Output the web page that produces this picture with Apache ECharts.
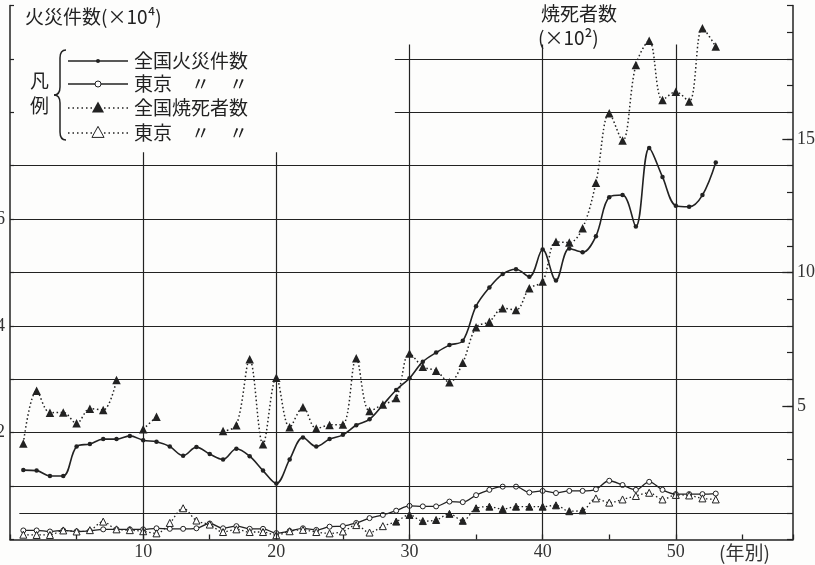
<!DOCTYPE html>
<html>
<head>
<meta charset="utf-8">
<script src="https://cdn.jsdelivr.net/npm/echarts@6/dist/echarts.min.js"></script>
<style>
  html, body { margin: 0; padding: 0; background: #fdfdfc; }
  #chart { width: 815px; height: 565px; }
</style>
</head>
<body>
<div id="chart"></div>
<script>
// 年別 (昭和1〜53年)
const years = [1,2,3,4,5,6,7,8,9,10,11,12,13,14,15,16,17,18,19,20,21,22,23,24,25,26,27,
  28,29,30,31,32,33,34,35,36,37,38,39,40,41,42,43,44,45,46,47,48,49,50,51,52,53];

// 全国火災件数 (×10^4)
const fireNational = [1.30,1.29,1.19,1.19,1.74,1.79,1.88,1.88,1.94,1.86,1.83,1.74,1.57,1.73,1.60,
  1.50,1.70,1.56,1.29,1.05,1.50,1.91,1.74,1.88,1.96,2.14,2.25,2.52,2.80,3.02,3.33,3.50,3.64,3.72,
  4.37,4.72,4.97,5.06,4.92,5.43,4.85,5.45,5.38,5.68,6.41,6.45,5.86,7.33,6.79,6.25,6.23,6.45,7.06];

// 東京火災件数 (×10^4)
const fireTokyo = [0.17,0.17,0.15,0.17,0.15,0.16,0.19,0.19,0.19,0.19,0.21,0.20,0.20,0.21,0.30,
  0.21,0.25,0.20,0.20,0.12,0.16,0.21,0.18,0.24,0.25,0.31,0.40,0.46,0.54,0.63,0.62,0.62,0.71,0.70,
  0.83,0.93,0.99,0.99,0.88,0.91,0.87,0.91,0.91,0.94,1.10,1.02,0.93,1.08,0.93,0.85,0.85,0.85,0.86];

// 全国焼死者数 (×10^2) — 欠測年は null
const deathNational = [3.60,5.57,4.75,4.76,4.35,4.90,4.85,5.97,null,4.13,4.60,null,null,null,null,
  4.06,4.28,6.75,3.57,6.06,4.20,4.95,4.16,4.29,4.31,6.79,4.81,5.06,5.30,6.97,6.47,6.32,5.89,6.62,
  7.95,8.16,8.66,8.60,9.41,9.66,11.15,11.12,11.66,13.36,15.96,14.94,17.77,18.68,16.46,16.77,16.40,19.15,18.46];

// 東京焼死者数 (×10^2)
const deathTokyo = [0.18,0.17,0.17,0.34,0.30,0.35,0.67,0.38,0.35,0.31,0.23,0.62,1.17,0.71,0.56,
  0.28,0.38,0.28,0.28,0.16,0.31,0.36,0.28,0.23,0.30,0.54,0.26,0.50,0.67,0.92,0.69,0.73,0.96,0.70,
  1.17,1.23,1.14,1.23,1.23,1.23,1.28,1.06,1.09,1.54,1.38,1.50,1.63,1.75,1.50,1.67,1.65,1.54,1.50];

// 軸目盛
const xTickLabels = [10, 20, 30, 40, 50];
const leftTickLabels = [2, 4, 6];
const rightTickLabels = [5, 10, 15];

const INK = '#222';
const CJK = '"Noto Sans CJK JP", sans-serif';
const SERIF = '"Liberation Serif", "DejaVu Serif", serif';
const X_MAX = 58.8;

const pairs = (vals) => years.map((y, i) => [y, vals[i]]);

// 東京焼死者数: 昭和29〜43年は黒三角で印刷
const tokyoDeathData = years.map((y, i) => {
  const item = { value: [y, deathTokyo[i]] };
  if (y >= 29 && y <= 43) item.itemStyle = { color: INK };
  return item;
});

// 罫線 (左軸の値で指定)
const hLine = (v, x0) => [{ coord: [x0, v] }, { coord: [X_MAX, v] }];
const vLine = (x, top) => [{ coord: [x, 0] }, { coord: [x, top] }];
const gridLines = [
  hLine(0.5, 0.7), hLine(1, 0), hLine(2, 0), hLine(3, 0), hLine(4, 0),
  hLine(5, 0), hLine(6, 0), hLine(7, 0), hLine(8, 28.9), hLine(9, 28.9),
  vLine(10, 7.25), vLine(20, 7.25), vLine(30, 9.27), vLine(40, 9.27), vLine(50, 9.27)
];
// 右軸の主目盛 (5, 10, 15)
const rightMajorTicks = rightTickLabels.map(v => [{ coord: [X_MAX - 0.8, v] }, { coord: [X_MAX, v] }]);

const chart = echarts.init(document.getElementById('chart'), null, { renderer: 'canvas' });

const tri = (cx, cy, s) => [[cx, cy - s * 0.6], [cx - s * 0.55, cy + s * 0.4], [cx + s * 0.55, cy + s * 0.4]];

const legendRows = [
  { y: 61, dash: 'solid', mark: 'dot', text: '全国火災件数' },
  { y: 84, dash: 'solid', mark: 'circle', text: '東京　〃　〃' },
  { y: 108, dash: 'dotted', mark: 'triFilled', text: '全国焼死者数' },
  { y: 133, dash: 'dotted', mark: 'triOpen', text: '東京　〃　〃' }
];
const legendGraphics = [];
legendRows.forEach(r => {
  legendGraphics.push({
    type: 'line', shape: { x1: 68, y1: r.y, x2: 128, y2: r.y },
    style: { stroke: INK, lineWidth: 1.4, lineDash: r.dash === 'dotted' ? [1.5, 3] : null }
  });
  if (r.mark === 'dot') {
    legendGraphics.push({ type: 'circle', shape: { cx: 98, cy: r.y, r: 2 }, style: { fill: INK } });
  } else if (r.mark === 'circle') {
    legendGraphics.push({ type: 'circle', shape: { cx: 98, cy: r.y, r: 3 }, style: { fill: '#fff', stroke: INK, lineWidth: 1 } });
  } else if (r.mark === 'triFilled') {
    legendGraphics.push({ type: 'polygon', shape: { points: tri(98, r.y, 11) }, style: { fill: INK } });
  } else {
    legendGraphics.push({ type: 'polygon', shape: { points: tri(98, r.y, 11) }, style: { fill: '#fff', stroke: INK, lineWidth: 1 } });
  }
  legendGraphics.push({
    type: 'text', x: 134, y: r.y,
    style: { text: r.text, font: '19px ' + CJK, fill: INK, verticalAlign: 'middle' }
  });
});

// 凡例の中括弧
const braceStyle = { stroke: INK, lineWidth: 1.5, fill: null };
const brace = [
  { type: 'bezierCurve', shape: { x1: 66, y1: 50, x2: 60, y2: 58, cpx1: 60, cpy1: 50 }, style: braceStyle },
  { type: 'line', shape: { x1: 60, y1: 58, x2: 60, y2: 87 }, style: braceStyle },
  { type: 'bezierCurve', shape: { x1: 60, y1: 87, x2: 54, y2: 95, cpx1: 60, cpy1: 95 }, style: braceStyle },
  { type: 'bezierCurve', shape: { x1: 54, y1: 95, x2: 60, y2: 103, cpx1: 60, cpy1: 95 }, style: braceStyle },
  { type: 'line', shape: { x1: 60, y1: 103, x2: 60, y2: 132 }, style: braceStyle },
  { type: 'bezierCurve', shape: { x1: 60, y1: 132, x2: 66, y2: 140, cpx1: 60, cpy1: 140 }, style: braceStyle }
];

const label = (x, y, text, color) => ({
  type: 'text', x: x, y: y,
  style: { text: text, font: '19px ' + CJK, fill: color || INK, verticalAlign: 'middle' }
});

const option = {
  backgroundColor: '#fdfdfc',
  animation: false,
  grid: { left: 10, right: 22, top: 5.5, bottom: 25.5, containLabel: false, outerBoundsMode: 'none' },
  xAxis: {
    type: 'value', min: 0, max: X_MAX, interval: 5,
    axisLine: { show: true, onZero: false, lineStyle: { color: INK, width: 1.5 } },
    axisTick: { show: true, inside: true, length: 5, lineStyle: { color: INK, width: 1.3 } },
    axisLabel: {
      margin: 4, fontSize: 18, fontFamily: SERIF, color: '#333',
      formatter: v => xTickLabels.includes(v) ? String(v) : ''
    },
    splitLine: { show: false }
  },
  yAxis: [
    {
      type: 'value', min: 0, max: 10, interval: 1, position: 'left',
      axisLine: { show: true, lineStyle: { color: INK, width: 1.5 } },
      axisTick: { show: true, inside: true, length: 4, lineStyle: { color: INK, width: 1.2 } },
      axisLabel: {
        margin: 5, fontSize: 18, fontFamily: SERIF, color: '#333',
        formatter: v => leftTickLabels.includes(v) ? String(v) : ''
      },
      splitLine: { show: false }
    },
    {
      type: 'value', min: 0, max: 20, interval: 1, position: 'right',
      axisLine: { show: true, lineStyle: { color: INK, width: 1.5 } },
      axisTick: { show: true, inside: true, length: 6, lineStyle: { color: INK, width: 1.2 } },
      axisLabel: {
        margin: 4, fontSize: 18, fontFamily: SERIF, color: '#333',
        formatter: v => rightTickLabels.includes(v) ? String(v) : ''
      },
      splitLine: { show: false }
    }
  ],
  series: [
    {
      name: '全国火災件数', type: 'line', yAxisIndex: 0, data: pairs(fireNational),
      smooth: 0.35, symbol: 'circle', symbolSize: 4.5,
      lineStyle: { color: INK, width: 1.6 }, itemStyle: { color: INK },
      markLine: {
        silent: true, symbol: ['none', 'none'], label: { show: false },
        lineStyle: { color: INK, width: 1.2, type: 'solid' },
        data: gridLines
      },
      z: 3
    },
    {
      name: '東京火災件数', type: 'line', yAxisIndex: 0, data: pairs(fireTokyo),
      smooth: 0.35, symbol: 'circle', symbolSize: 5,
      lineStyle: { color: INK, width: 1.3 },
      itemStyle: { color: '#fff', borderColor: INK, borderWidth: 1 },
      z: 4
    },
    {
      name: '全国焼死者数', type: 'line', yAxisIndex: 1, data: pairs(deathNational),
      connectNulls: false, smooth: 0.35, symbol: 'triangle', symbolSize: 8.5,
      lineStyle: { color: INK, width: 1.5, type: [1.5, 2.5] }, itemStyle: { color: INK },
      markLine: {
        silent: true, symbol: ['none', 'none'], label: { show: false },
        lineStyle: { color: INK, width: 1.3, type: 'solid' },
        data: rightMajorTicks
      },
      z: 3
    },
    {
      name: '東京焼死者数', type: 'line', yAxisIndex: 1, data: tokyoDeathData,
      smooth: 0.35, symbol: 'triangle', symbolSize: 7,
      lineStyle: { color: INK, width: 1.3, type: [1.5, 2.5] },
      itemStyle: { color: '#fff', borderColor: INK, borderWidth: 1 },
      z: 4
    }
  ],
  graphic: [
    label(25, 17, '火災件数(×10⁴)'),
    label(541, 14, '焼死者数'),
    label(538, 38, '(×10²)'),
    label(719, 553, '(年別)', '#333'),
    label(30, 81, '凡'),
    label(30, 106, '例')
  ].concat(brace, legendGraphics)
};

chart.setOption(option);
</script>
</body>
</html>
